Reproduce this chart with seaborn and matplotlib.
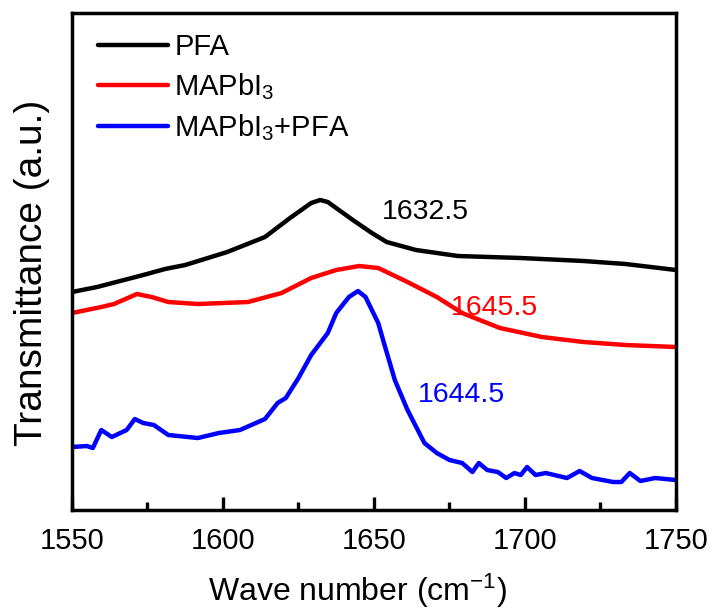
import matplotlib
import matplotlib.pyplot as plt
import numpy as np
import pandas as pd
import seaborn as sns
from matplotlib.ticker import MultipleLocator

# FTIR spectra, values (a.u., offset stacked)
pfa_x = [1550, 1558.3, 1573.6, 1580.8, 1587.5, 1601.4, 1613.9, 1622.2, 1629.2, 1632.2,
         1634.7, 1643, 1649.3, 1654.2, 1663.9, 1677.8, 1698.6, 1719.4, 1733.3, 1750]
pfa_y = [218, 223, 235, 241, 245, 258, 273, 292, 307, 310,
         308, 290, 277, 268, 260, 254, 252, 249, 246, 240]

mapbi_x = [1550, 1559.7, 1563.9, 1571.5, 1576.4, 1581.9, 1591.7, 1608.3, 1619.4, 1629.2,
           1637.5, 1645.1, 1651.4, 1661.1, 1670.8, 1679.2, 1691.7, 1705.6, 1719.4, 1733.3, 1750]
mapbi_y = [197, 203, 206, 216, 213, 208, 206, 208, 217, 232,
           240, 244, 242, 228, 213, 197, 182, 173, 168, 165, 163]

mix_x = [1550, 1554.9, 1556.9, 1559.7, 1563.2, 1568.1, 1570.8, 1573.6, 1577.1, 1581.9,
         1591.7, 1598.6, 1605.6, 1613.9, 1618.1, 1620.8, 1625, 1629.2, 1634.7, 1637.5,
         1641.7, 1644.7, 1647.2, 1651.4, 1653.5, 1656.9, 1661.1, 1666.7, 1670.8, 1675,
         1679.2, 1682.6, 1684.7, 1687.5, 1691, 1693.8, 1696.5, 1698.6, 1700.7, 1703.5,
         1706.9, 1713.9, 1718.1, 1722.2, 1729.2, 1731.9, 1734.7, 1738.2, 1743.1, 1750]
mix_y = [63, 64, 62, 80, 73, 80, 91, 87, 85, 75,
         72, 77, 80, 91, 107, 112, 132, 155, 177, 197,
         213, 219, 213, 187, 165, 130, 100, 67, 57, 50,
         47, 38, 47, 40, 38, 32, 37, 35, 43, 35,
         37, 32, 39, 32, 28, 28, 37, 29, 32, 30]

labels = ['PFA', r'MAPbI$_3$', r'MAPbI$_3$+PFA']
colors = ['#000000', '#ff0000', '#0000ff']

# peak annotations: text, x, y
peak_text = ['1632.5', '1645.5', '1644.5']
peak_x = [1667, 1690, 1679]
peak_y = [298, 202, 115]

df = pd.concat([
    pd.DataFrame({'wn': pfa_x, 'T': pfa_y, 'sample': labels[0]}),
    pd.DataFrame({'wn': mapbi_x, 'T': mapbi_y, 'sample': labels[1]}),
    pd.DataFrame({'wn': mix_x, 'T': mix_y, 'sample': labels[2]}),
])

sns.set_style('ticks', {'axes.edgecolor': 'black', 'xtick.color': 'black',
                        'text.color': 'black', 'axes.labelcolor': 'black'})
plt.rcParams['font.family'] = ['Liberation Sans', 'DejaVu Sans']
plt.rcParams['mathtext.fontset'] = 'custom'
plt.rcParams['mathtext.rm'] = 'Liberation Sans'
plt.rcParams['mathtext.it'] = 'Liberation Sans'

fig = plt.figure(figsize=(7.17, 6.10), dpi=100)
ax = fig.add_axes([0.1004, 0.1639, 0.8424, 0.8148])

sns.lineplot(data=df, x='wn', y='T', hue='sample', hue_order=labels, palette=colors,
             linewidth=3.2, sort=True, estimator=None, ax=ax)

for t, x, y, c in zip(peak_text, peak_x, peak_y, colors):
    ax.text(x, y, t, color=c, fontsize=20.5, ha='center', va='center')

ax.set_xlim(1550, 1750)
ax.set_ylim(0, 497)
ax.xaxis.set_major_locator(MultipleLocator(50))
ax.xaxis.set_minor_locator(MultipleLocator(25))
ax.tick_params(axis='x', which='major', direction='in', length=9.5, width=2.4,
               labelsize=21, pad=12, top=False)
ax.tick_params(axis='x', which='minor', direction='in', length=5.5, width=2.4, top=False)
ax.set_yticks([])
for s in ax.spines.values():
    s.set_linewidth(2.5)
    s.set_visible(True)

ax.set_xlabel(r'Wave number (cm$^{-1}$)', fontsize=23)
ax.xaxis.set_label_coords(0.472, -0.125)
ax.set_ylabel('Transmittance (a.u.)', fontsize=28)
ax.yaxis.set_label_coords(-0.037, 0.477)

ax.legend(loc='upper left', bbox_to_anchor=(0.01, 1.0), frameon=False, fontsize=21,
          handlelength=2.4, handletextpad=0.2, labelspacing=0.35, borderaxespad=0.3)

plt.savefig('out.png', dpi=100)
